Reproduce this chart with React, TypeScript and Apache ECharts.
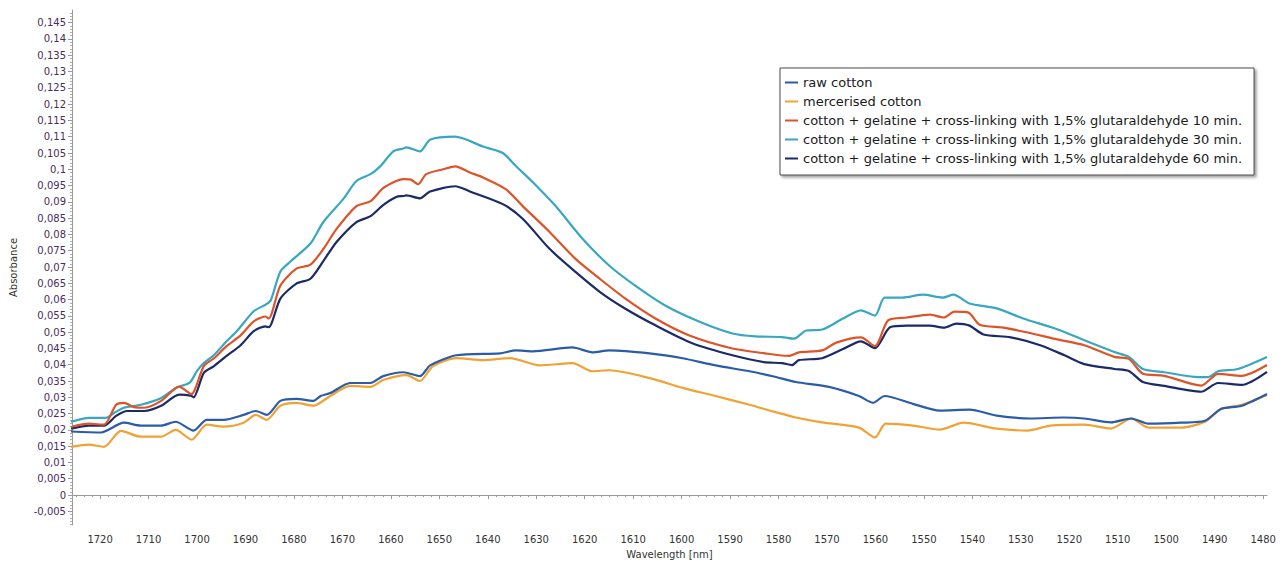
import React, { useEffect, useRef } from "react";
import * as echarts from "echarts";

// ---- axis ticks ----
const yTickValues = [-0.005, 0, 0.005, 0.01, 0.015, 0.02, 0.025, 0.03, 0.035, 0.04, 0.045, 0.05, 0.055, 0.06, 0.065, 0.07, 0.075, 0.08, 0.085, 0.09, 0.095, 0.1, 0.105, 0.11, 0.115, 0.12, 0.125, 0.13, 0.135, 0.14, 0.145];
const xTickValues = [1720, 1710, 1700, 1690, 1680, 1670, 1660, 1650, 1640, 1630, 1620, 1610, 1600, 1590, 1580, 1570, 1560, 1550, 1540, 1530, 1520, 1510, 1500, 1490, 1480];

// ---- series names ----
const seriesNames = [
  "raw cotton",
  "mercerised cotton",
  "cotton + gelatine + cross-linking with 1,5% glutaraldehyde 10 min.",
  "cotton + gelatine + cross-linking with 1,5% glutaraldehyde 30 min.",
  "cotton + gelatine + cross-linking with 1,5% glutaraldehyde 60 min.",
];
const seriesColors = ["#2b5ca8", "#f0a235", "#dc5428", "#3aa7c2", "#1b2a68"];

// ---- raw cotton ----
const rawNm = [1726, 1719.8, 1715.1, 1711.6, 1707.4, 1704.4, 1700.7, 1698, 1694.5, 1690.4, 1687.9, 1685.6, 1682.8, 1679.5, 1676, 1674.5, 1672.5, 1668.4, 1664.2, 1661.6, 1657.4, 1654, 1651.9, 1646.5, 1637.5, 1634.2, 1630.7, 1622.5, 1618.4, 1614.9, 1606.6, 1599.8, 1593, 1586, 1581, 1576.4, 1569.6, 1563.4, 1560.5, 1558.1, 1552.3, 1546.7, 1540.6, 1535, 1528, 1521.2, 1516.9, 1511.4, 1507.2, 1503.7, 1496.9, 1492, 1488.7, 1484.4, 1479.2];
const rawAbs = [0.0195, 0.0192, 0.0222, 0.0213, 0.0213, 0.0225, 0.0198, 0.0231, 0.0231, 0.0246, 0.0258, 0.0246, 0.0289, 0.0295, 0.0289, 0.0304, 0.0313, 0.0344, 0.0344, 0.0365, 0.0377, 0.0365, 0.0398, 0.0429, 0.0435, 0.0444, 0.0441, 0.0453, 0.0438, 0.0444, 0.0435, 0.042, 0.0398, 0.038, 0.0364, 0.0347, 0.0332, 0.0304, 0.0283, 0.0304, 0.028, 0.0259, 0.0262, 0.0244, 0.0235, 0.0238, 0.0235, 0.0223, 0.0235, 0.0219, 0.0222, 0.0228, 0.0264, 0.0274, 0.031];

// ---- mercerised cotton ----
const mercNm = [1726, 1722.3, 1719.2, 1715.7, 1711.6, 1707.4, 1704.4, 1701.1, 1698, 1694.5, 1690.4, 1687.9, 1685.6, 1682.8, 1679.5, 1676, 1672.5, 1668.4, 1664.2, 1661.6, 1656.8, 1654, 1651.3, 1646.5, 1641, 1635.4, 1629.3, 1622.5, 1618.4, 1614.9, 1606.6, 1599.8, 1593, 1586, 1581, 1576.4, 1571, 1563.4, 1560.1, 1557.9, 1552.3, 1546.7, 1541.8, 1535, 1528.6, 1523.9, 1516.9, 1511.4, 1507.2, 1503.7, 1496.9, 1492, 1488.7, 1484.4, 1479.2];
const mercAbs = [0.0148, 0.0155, 0.0148, 0.0197, 0.0179, 0.0179, 0.02, 0.017, 0.0216, 0.021, 0.0222, 0.0246, 0.0231, 0.0274, 0.0283, 0.0274, 0.0304, 0.0335, 0.0332, 0.0353, 0.0368, 0.035, 0.0396, 0.042, 0.0414, 0.042, 0.0398, 0.0405, 0.038, 0.0383, 0.0359, 0.0329, 0.0304, 0.0277, 0.0256, 0.0238, 0.0223, 0.0207, 0.0177, 0.0219, 0.0213, 0.0201, 0.0222, 0.0204, 0.0198, 0.0213, 0.0216, 0.0204, 0.0235, 0.0207, 0.0207, 0.0225, 0.0264, 0.0277, 0.0307];

// ---- 10 min ----
const min10Nm = [1726, 1722.3, 1719.2, 1716.7, 1715.1, 1713, 1710.9, 1707.4, 1703.7, 1701.2, 1698.6, 1696.5, 1693.9, 1691, 1688.3, 1685.9, 1685.2, 1682.8, 1679.5, 1676.6, 1673.9, 1671.2, 1667.1, 1664.2, 1661.6, 1658.9, 1657.4, 1656, 1654.4, 1652.7, 1649.2, 1646.7, 1643.7, 1641, 1636.3, 1632.8, 1627.2, 1621.9, 1616.9, 1611.6, 1605.4, 1598.4, 1589.5, 1582.8, 1577.8, 1575.8, 1571, 1568.1, 1563, 1560.1, 1557.4, 1553.5, 1548.8, 1545.9, 1543.7, 1540.8, 1538.5, 1533.6, 1528.6, 1522.5, 1516.9, 1510.7, 1507.7, 1504.8, 1500.4, 1492.8, 1489.3, 1484.4, 1479.2];
const min10Abs = [0.0209, 0.0219, 0.0216, 0.0277, 0.0283, 0.027, 0.0268, 0.0289, 0.0333, 0.031, 0.0396, 0.042, 0.0457, 0.049, 0.0533, 0.0548, 0.0542, 0.0643, 0.0695, 0.0707, 0.0756, 0.0817, 0.0887, 0.0902, 0.0942, 0.0964, 0.097, 0.0969, 0.0954, 0.0985, 0.1, 0.1009, 0.099, 0.0975, 0.0939, 0.0887, 0.0807, 0.0725, 0.0664, 0.0603, 0.0542, 0.049, 0.045, 0.0435, 0.0427, 0.0438, 0.0444, 0.0468, 0.0484, 0.0457, 0.0536, 0.0545, 0.0554, 0.0545, 0.0563, 0.056, 0.0523, 0.0514, 0.0499, 0.0478, 0.046, 0.0424, 0.0418, 0.0372, 0.0366, 0.0336, 0.0372, 0.0366, 0.0399];

// ---- 30 min ----
const min30Nm = [1726, 1722.3, 1718.8, 1717.1, 1715.1, 1711.6, 1707.4, 1704.2, 1701.5, 1700, 1698.6, 1696.5, 1693.9, 1691.8, 1688.3, 1685.8, 1684.8, 1682.8, 1680.7, 1676.6, 1673.9, 1669.8, 1667.1, 1664.2, 1662.2, 1659.5, 1657.4, 1656.8, 1654, 1651.9, 1646.7, 1641, 1636.9, 1634.2, 1630.7, 1626, 1620.4, 1614.9, 1609.5, 1603.3, 1596.3, 1589.5, 1584.8, 1579.3, 1576.8, 1574.3, 1571, 1566.7, 1563, 1560.1, 1558.1, 1554.4, 1550.2, 1546.1, 1543.9, 1540.6, 1535, 1529.5, 1522.5, 1516.9, 1510.7, 1507.7, 1504.8, 1500.4, 1493.4, 1491.4, 1489.3, 1485.2, 1479.2];
const min30Abs = [0.0225, 0.0237, 0.0237, 0.0252, 0.0268, 0.0277, 0.0298, 0.033, 0.0345, 0.0381, 0.0405, 0.043, 0.0472, 0.0503, 0.0564, 0.0585, 0.0597, 0.0686, 0.0717, 0.0772, 0.0839, 0.0909, 0.0964, 0.0985, 0.1009, 0.1055, 0.1064, 0.1067, 0.1055, 0.1091, 0.11, 0.107, 0.105, 0.101, 0.096, 0.0887, 0.0786, 0.0704, 0.0642, 0.0581, 0.0532, 0.0496, 0.0487, 0.0485, 0.048, 0.0505, 0.0508, 0.0542, 0.0567, 0.0551, 0.0606, 0.0606, 0.0615, 0.0606, 0.0615, 0.0588, 0.0573, 0.0542, 0.0509, 0.0475, 0.0439, 0.0424, 0.0387, 0.0377, 0.0362, 0.0362, 0.038, 0.0387, 0.0424];

// ---- 60 min ----
const min60Nm = [1726, 1722.3, 1719.2, 1716.7, 1714.4, 1710.9, 1707.4, 1703.7, 1701.3, 1700.7, 1698.6, 1696.5, 1693.9, 1691, 1688.3, 1685.9, 1685.2, 1682.8, 1679.5, 1676.6, 1673.9, 1671.2, 1667.1, 1664.2, 1661.6, 1658.9, 1657.4, 1656.8, 1654, 1651.9, 1646.7, 1643.7, 1636.9, 1632.8, 1627.2, 1621.9, 1616.9, 1611.6, 1605.4, 1597.8, 1589.5, 1583, 1579.3, 1577.2, 1575.8, 1571, 1566.7, 1563, 1560.1, 1557, 1553.5, 1548.8, 1545.9, 1543.3, 1540.6, 1537.7, 1532.1, 1526, 1521, 1516.9, 1510.7, 1507.7, 1504.8, 1500.4, 1492.8, 1489.3, 1484.4, 1479.2];
const min60Abs = [0.0204, 0.0213, 0.0213, 0.0243, 0.0258, 0.0258, 0.0274, 0.0308, 0.0305, 0.03, 0.0375, 0.0396, 0.0427, 0.046, 0.0503, 0.0518, 0.0515, 0.0603, 0.0649, 0.0664, 0.0719, 0.0777, 0.0838, 0.0856, 0.089, 0.0915, 0.0918, 0.092, 0.0911, 0.0932, 0.0948, 0.0932, 0.0893, 0.0848, 0.0755, 0.0685, 0.0624, 0.0572, 0.0521, 0.0466, 0.0429, 0.0408, 0.0405, 0.0399, 0.0414, 0.042, 0.0448, 0.0472, 0.0451, 0.0515, 0.052, 0.052, 0.0514, 0.0526, 0.052, 0.0493, 0.0484, 0.046, 0.0429, 0.0402, 0.0387, 0.0381, 0.0347, 0.0335, 0.0317, 0.0344, 0.0338, 0.0378];

const seriesNm = [rawNm, mercNm, min10Nm, min30Nm, min60Nm];
const seriesAbs = [rawAbs, mercAbs, min10Abs, min30Abs, min60Abs];

const X_MIN = 1479.2;
const X_MAX = 1725.8;
const Y_MIN = -0.0092;
const Y_MAX = 0.1489;

const FONT = "'DejaVu Sans', Verdana, Tahoma, sans-serif";

function fmtComma(v: number) {
  return String(+v.toFixed(4)).replace(".", ",");
}

export default function App() {
  const ref = useRef<HTMLDivElement>(null);

  useEffect(() => {
    if (!ref.current) return;
    const chart = echarts.init(ref.current, undefined, { renderer: "svg" });

    const yMinor: number[] = [];
    for (let i = Math.ceil(Y_MIN * 1000); i <= Math.floor(Y_MAX * 1000); i++) {
      if (i % 5 !== 0) yMinor.push(i / 1000);
    }
    const xMinor: number[] = [];
    for (let k = 0; k < xTickValues.length; k++) {
      for (let j = 1; j < 6; j++) {
        const v = xTickValues[k] - (j * 10) / 6;
        if (v >= X_MIN) xMinor.push(v);
        const u = xTickValues[k] + (j * 10) / 6;
        if (k === 0 && u <= X_MAX) xMinor.push(u);
      }
    }

    const series: any[] = seriesNames.map((name, i) => ({
      name,
      type: "line",
      xAxisIndex: 0,
      yAxisIndex: 0,
      data: seriesNm[i].map((nm, j) => [nm, seriesAbs[i][j]]),
      showSymbol: false,
      symbol: "none",
      smooth: 0.25,
      lineStyle: { width: 2.2, color: seriesColors[i] },
      itemStyle: { color: seriesColors[i] },
      z: 10 - i,
    }));

    chart.setOption({
      animation: false,
      backgroundColor: "#ffffff",
      textStyle: { fontFamily: FONT },
      grid: { left: 68, right: 20, top: 10, bottom: 36 },
      legend: {
        orient: "vertical",
        left: 780,
        top: 68,
        icon: "rect",
        itemWidth: 13,
        itemHeight: 2,
        itemGap: 6,
        padding: [8, 12, 10, 5],
        backgroundColor: "#ffffff",
        borderColor: "#4a4a4a",
        borderWidth: 1,
        borderRadius: 0,
        shadowColor: "rgba(0,0,0,0.4)",
        shadowBlur: 3,
        shadowOffsetX: 2,
        shadowOffsetY: 2,
        textStyle: { fontFamily: FONT, fontSize: 13, lineHeight: 13, color: "#1a1a1a" },
        data: seriesNames,
      },
      xAxis: [
        {
          type: "value",
          inverse: true,
          min: X_MIN,
          max: X_MAX,
          name: "Wavelength [nm]",
          nameLocation: "middle",
          nameGap: 24,
          nameTextStyle: { fontFamily: FONT, fontSize: 10, color: "#333" },
          axisLine: { show: true, lineStyle: { color: "#9a9a9a", width: 1 } },
          axisTick: { show: true, length: 4, lineStyle: { color: "#9a9a9a" }, customValues: xTickValues },
          axisLabel: {
            show: true,
            margin: 9,
            fontFamily: FONT,
            fontSize: 10,
            color: "#333",
            customValues: xTickValues,
            formatter: (v: number) => String(v),
          },
          splitLine: { show: false },
        },
        {
          type: "value",
          inverse: true,
          min: X_MIN,
          max: X_MAX,
          position: "bottom",
          axisLine: { show: false },
          axisTick: { show: true, length: 2, lineStyle: { color: "#9a9a9a" }, customValues: xMinor },
          axisLabel: { show: false },
          splitLine: { show: false },
        },
      ],
      yAxis: [
        {
          type: "value",
          min: Y_MIN,
          max: Y_MAX,
          name: "Absorbance",
          nameLocation: "middle",
          nameGap: 54,
          nameRotate: 90,
          nameTextStyle: { fontFamily: FONT, fontSize: 10, color: "#333" },
          axisLine: { show: true, lineStyle: { color: "#9a9a9a", width: 1 } },
          axisTick: { show: true, length: 4, lineStyle: { color: "#9a9a9a" }, customValues: yTickValues },
          axisLabel: {
            show: true,
            margin: 6,
            fontFamily: FONT,
            fontSize: 10,
            color: "#4a2c5c",
            customValues: yTickValues,
            formatter: (v: number) => fmtComma(v),
          },
          splitLine: { show: false },
        },
        {
          type: "value",
          min: Y_MIN,
          max: Y_MAX,
          position: "left",
          axisLine: { show: false },
          axisTick: { show: true, length: 2, lineStyle: { color: "#b0b0b0" }, customValues: yMinor },
          axisLabel: { show: false },
          splitLine: { show: false },
        },
      ],
      series,
    });

    return () => chart.dispose();
  }, []);

  return (
    <div
      ref={ref}
      style={{ position: "fixed", left: 0, top: 0, width: 1287, height: 564, background: "#fff" }}
    />
  );
}
